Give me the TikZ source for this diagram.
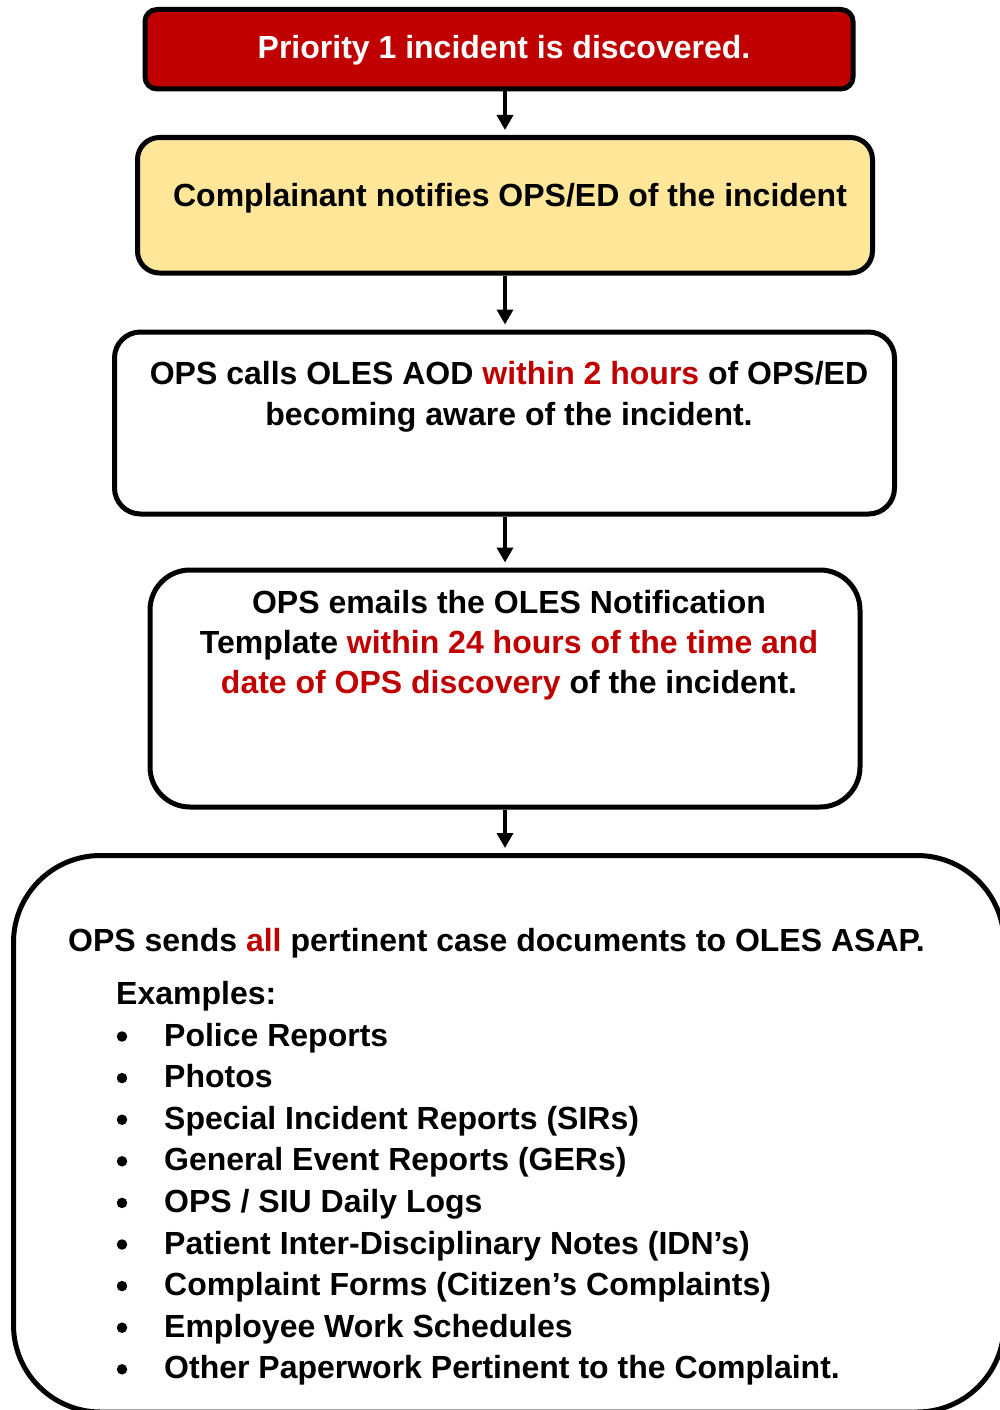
\documentclass[tikz,border=0pt]{standalone}
\usepackage{fontspec}
\setmainfont{Liberation Sans}
\usetikzlibrary{arrows.meta}
\definecolor{boxred}{HTML}{C00000}
\definecolor{boxyellow}{HTML}{FFE699}
\newcommand{\hot}[1]{\textcolor{boxred}{#1}}
\begin{document}
\begin{tikzpicture}[x=1pt,y=-1pt,
  stepbox/.style={draw=black, line width=5pt, inner sep=0pt},
  txt/.style={inner sep=0pt, anchor=base, font=\fontsize{32}{41.5}\selectfont\bfseries},
  ltxt/.style={txt, anchor=base west},
  dotmark/.style={circle, fill=black, inner sep=0pt, minimum size=10.5pt},
  arr/.style={line width=3.5pt, -{Triangle[width=16pt,length=15pt]}}]
\useasboundingbox (0,0) rectangle (1000,1410);
\clip (0,0) rectangle (1000,1410);

% process boxes
\node[stepbox, fill=boxred, rounded corners=12pt, minimum width=708pt, minimum height=79.5pt] (b1) at (499,49.25) {};
\node[stepbox, fill=boxyellow, rounded corners=22pt, minimum width=735pt, minimum height=135.5pt] (b2) at (505,205.25) {};
\node[stepbox, fill=white, rounded corners=26pt, minimum width=780pt, minimum height=182pt] (b3) at (504.5,423) {};
\node[stepbox, fill=white, rounded corners=40pt, minimum width=710pt, minimum height=237pt] (b4) at (505,688.5) {};
\node[stepbox, fill=white, rounded corners=87pt, minimum width=990.5pt, minimum height=556.5pt] (b5) at (508.75,1133.75) {};

% connectors
\coordinate (ax) at (505,0);
\draw[arr] (b1.south -| ax) -- ([yshift=5pt]b2.north -| ax);
\draw[arr] (b2.south -| ax) -- ([yshift=5pt]b3.north -| ax);
\draw[arr] (b3.south -| ax) -- ([yshift=5pt]b4.north -| ax);
\draw[arr] (b4.south -| ax) -- ([yshift=5pt]b5.north -| ax);

% box texts
\node[txt, text=white] (t1) at (504,59) {Priority 1 incident is discovered.};
\node[txt] (t2) at (510,206) {Complainant notifies OPS/ED of the incident};
\node[txt] (t3a) at (509,384) {OPS calls OLES AOD \hot{within 2 hours} of OPS/ED};
\node[txt] (t3b) at (509,425) {becoming aware of the incident.};
\node[txt] (t4a) at (509,613) {OPS emails the OLES Notification};
\node[txt] (t4b) at (509,653) {Template \hot{within 24 hours of the time and}};
\node[txt] (t4c) at (509,693) {\hot{date of OPS discovery} of the incident.};

\node[ltxt] (t5) at (68,951) {OPS sends \hot{all} pertinent case documents to OLES ASAP.};
\node[ltxt] (ex) at (116,1004) {Examples:};
\foreach \item [count=\i from 0] in {
    Police Reports,
    Photos,
    Special Incident Reports (SIRs),
    General Event Reports (GERs),
    OPS / SIU Daily Logs,
    Patient Inter-Disciplinary Notes (IDN’s),
    Complaint Forms (Citizen’s Complaints),
    Employee Work Schedules,
    Other Paperwork Pertinent to the Complaint.}{
  \node[dotmark] (dot\i) at (122,1036.5+41.6*\i) {};
  \node[ltxt] (item\i) at (164,1046+41.6*\i) {\item};
}
\end{tikzpicture}
\end{document}
